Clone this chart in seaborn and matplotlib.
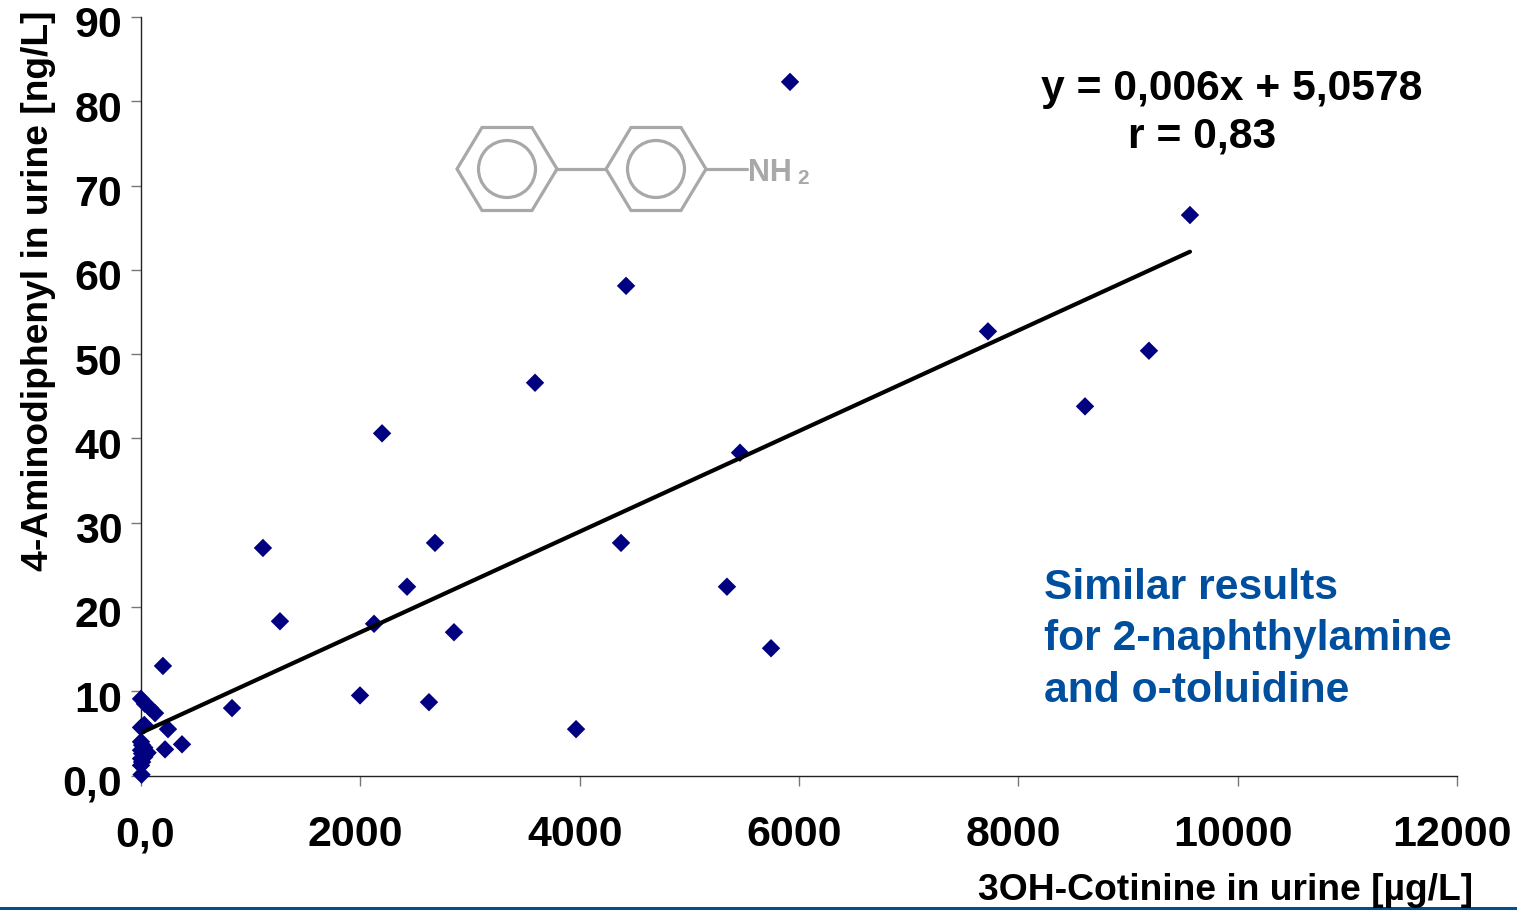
import matplotlib
matplotlib.use("Agg")
import matplotlib.pyplot as plt
import seaborn as sns
import pandas as pd
from matplotlib.lines import Line2D
from matplotlib.patches import Polygon, Circle, Rectangle
from matplotlib.transforms import IdentityTransform, ScaledTranslation

cotinine = [5918, 9565, 4423, 7723, 9191, 3593, 8608, 2198, 5462, 1112, 2681, 4377, 2426, 5343,
            1267, 2125, 2854, 5745, 200, 1997, 2626, 830, 3967, 246, 374, 219,
            0, 36, 82, 128, 0, 30, 0, 10, 30, 60, 0, 10, 30, 0, 10, 0, 5]
aminodiphenyl = [82.3, 66.5, 58.1, 52.7, 50.4, 46.6, 43.8, 40.6, 38.3, 27.0, 27.6, 27.6, 22.4, 22.4,
                 18.3, 18.0, 17.0, 15.1, 13.0, 9.5, 8.7, 8.0, 5.5, 5.5, 3.7, 3.1,
                 9.1, 8.5, 8.0, 7.4, 5.7, 6.0, 4.0, 3.6, 3.3, 2.7, 3.0, 2.6, 2.2, 2.0, 1.6, 1.2, 0.1]
fit_x = [0, 9565]
fit_y = [5.0578, 62.15]
x_ticks = [0, 2000, 4000, 6000, 8000, 10000, 12000]
x_labels = ["0,0", "2000", "4000", "6000", "8000", "10000", "12000"]
y_ticks = [0, 10, 20, 30, 40, 50, 60, 70, 80, 90]
y_labels = ["0,0", "10", "20", "30", "40", "50", "60", "70", "80", "90"]

W, H = 1517, 910
BLUE = "#004f9f"
GREY = "#a8a8a8"
sns.set_theme(style="white")
plt.rcParams["font.family"] = ["Liberation Sans", "DejaVu Sans"]
plt.rcParams["font.weight"] = "bold"

fig = plt.figure(figsize=(W / 100, H / 100), dpi=100)
ax = fig.add_axes([141 / W, 1 - 775.5 / H, (1457 - 141) / W, (775.5 - 17) / H])
df = pd.DataFrame({"x": cotinine, "y": aminodiphenyl})
sns.lineplot(x=fit_x, y=fit_y, ax=ax, color="black", lw=3.0, zorder=4)
sns.scatterplot(data=df, x="x", y="y", ax=ax, marker="D", s=88, color="#000080",
                edgecolor="none", zorder=3, clip_on=False)
ax.set_xlim(0, 12000)
ax.set_ylim(0, 90)
ax.set_xticks(x_ticks, x_labels)
ax.set_yticks(y_ticks, y_labels)
ax.set_xlabel("")
ax.set_ylabel("")
for s in ("top", "right"):
    ax.spines[s].set_visible(False)
for s in ("left", "bottom"):
    ax.spines[s].set_linewidth(1.0)
    ax.spines[s].set_color("#222222")
ax.tick_params(axis="both", which="major", direction="out", length=7.5, width=1.0,
               color="#777777", labelsize=30.9, labelcolor="black", left=True, bottom=True)
ax.tick_params(axis="x", pad=21)
ax.tick_params(axis="y", pad=6)
off_y = ScaledTranslation(0, -5 / 100, fig.dpi_scale_trans)
for lab in ax.get_yticklabels():
    lab.set_transform(lab.get_transform() + off_y)
for i, lab in enumerate(ax.get_xticklabels()):
    dx = 4 if i == 0 else -5
    lab.set_transform(lab.get_transform() + ScaledTranslation(dx / 100, 0, fig.dpi_scale_trans))

def fx(px):
    return px / W
def fy(py):
    return 1 - py / H

fig.text(fx(1473), fy(890), "3OH-Cotinine in urine [µg/L]", ha="right", va="center", fontsize=26.8, color="black")
fig.text(fx(39), fy(291), "4-Aminodiphenyl in urine [ng/L]", rotation=90, ha="center", va="center",
         fontsize=26.8, color="black")
fig.text(fx(1041), fy(89), "y = 0,006x + 5,0578", ha="left", va="center", fontsize=30.7, color="black")
fig.text(fx(1128), fy(137), "r = 0,83", ha="left", va="center", fontsize=30.7, color="black")
for txt, py in zip(["Similar results", "for 2-naphthylamine", "and o-toluidine"], [588, 639, 691]):
    fig.text(fx(1044), fy(py), txt, ha="left", va="center", fontsize=30.7, color=BLUE)

# biphenyl amine structure, drawn in pixel space
ident = IdentityTransform()
def P(x, y):
    return (x, H - y)
for cx in (507, 656):
    verts = [P(cx - 50, 169), P(cx - 25, 127.5), P(cx + 25, 127.5), P(cx + 50, 169), P(cx + 25, 210.5), P(cx - 25, 210.5)]
    fig.add_artist(Polygon(verts, closed=True, fill=False, ec=GREY, lw=2.3, transform=ident))
    fig.add_artist(Circle(P(cx, 169), 28.5, fill=False, ec=GREY, lw=2.3, transform=ident))
for a, b in ((557, 606), (706, 747)):
    fig.add_artist(Line2D([a, b], [H - 169, H - 169], color=GREY, lw=2.3, transform=ident))
fig.text(fx(748), fy(173), "NH", ha="left", va="center", fontsize=22, color=GREY)
fig.text(fx(797), fy(179), "2", ha="left", va="center", fontsize=15, color=GREY)

# bottom rule
fig.add_artist(Rectangle((0, 0), W, 3, color="#004f8f", lw=0, transform=ident))

fig.savefig("out.png", dpi=100)
